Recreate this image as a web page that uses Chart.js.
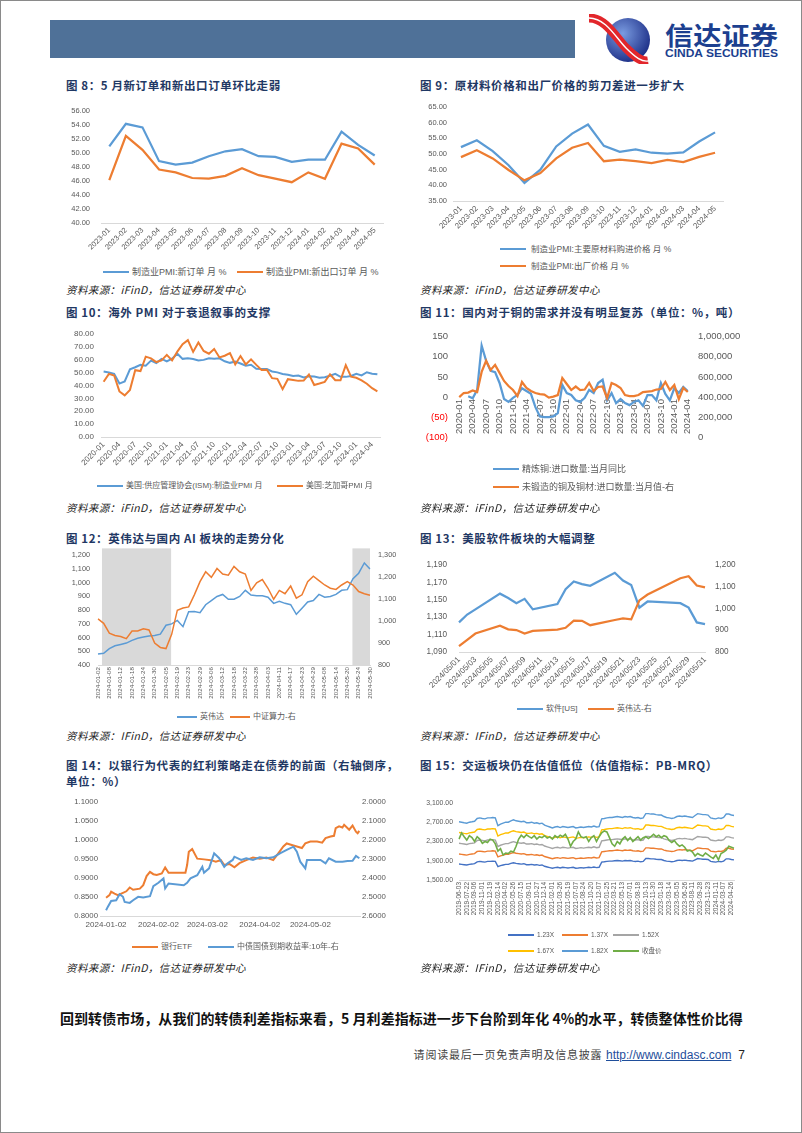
<!DOCTYPE html>
<html>
<head>
<meta charset="utf-8">
<script src="https://cdn.jsdelivr.net/npm/chart.js@4.4.1/dist/chart.umd.min.js"></script>
<style>
  html, body { margin: 0; padding: 0; background: #fff; }
  #page { position: relative; width: 802px; height: 1133px; overflow: hidden; font-family: "Noto Sans CJK SC", sans-serif; }
  .abs { position: absolute; }
  canvas { position: absolute; }
  .ttl { position: absolute; font-weight: 700; font-size: 11.5px; color: #1F3864; letter-spacing: 0.6px; white-space: nowrap; line-height: 16px; }
  .src { position: absolute; font-style: italic; font-size: 10.5px; color: #222; letter-spacing: 0.4px; white-space: nowrap; line-height: 14px; }
  .lg { position: absolute; height: 12px; display: flex; align-items: center; font-size: 8.5px; color: #595959; white-space: nowrap; line-height: 12px; font-family: "Liberation Sans", "Noto Sans CJK SC", sans-serif; }
  .lg i { display: inline-block; width: 26px; height: 2.5px; margin-right: 3px; }
</style>
</head>
<body>
<div id="page">
  <div class="abs" style="left:0;top:0;width:800px;height:1131px;border:1px solid #8a8a8a;"></div>

  <!-- header -->
  <div class="abs" style="left:50px;top:20px;width:525px;height:38px;background:#4F7198;"></div>
  <svg class="abs" style="left:586px;top:14px" width="200" height="50">
    <defs>
      <radialGradient id="lg1" cx="38%" cy="35%" r="70%">
        <stop offset="0" stop-color="#7a9be0"/>
        <stop offset="1" stop-color="#1b2d86"/>
      </radialGradient>
    </defs>
    <circle cx="42" cy="26" r="22" fill="url(#lg1)"/>
    <path d="M3 4 C 20 4, 30 24, 40 34 S 56 48, 62 47" stroke="#E2262B" stroke-width="9" fill="none"/>
    <path d="M3 4 C 20 4, 30 24, 40 34 S 56 48, 62 47" stroke="#ffffff" stroke-width="1.4" fill="none"/>
    <text x="79" y="31" font-family="Noto Sans CJK SC" font-weight="700" font-size="25" fill="#1C3F8F" textLength="113" lengthAdjust="spacingAndGlyphs">信达证券</text>
    <text x="79" y="43" font-family="Liberation Sans" font-weight="700" font-size="10" fill="#1C3F8F" textLength="113" lengthAdjust="spacingAndGlyphs">CINDA SECURITIES</text>
  </svg>

  <!-- titles -->
  <div class="ttl" style="left:66px;top:77px;">图 8：5 月新订单和新出口订单环比走弱</div>
  <div class="ttl" style="left:420px;top:77px;">图 9：原材料价格和出厂价格的剪刀差进一步扩大</div>
  <div class="ttl" style="left:66px;top:304px;">图 10：海外 PMI 对于衰退叙事的支撑</div>
  <div class="ttl" style="left:420px;top:304px;">图 11：国内对于铜的需求并没有明显复苏（单位：%，吨）</div>
  <div class="ttl" style="left:66px;top:530px;">图 12：英伟达与国内 AI 板块的走势分化</div>
  <div class="ttl" style="left:420px;top:530px;">图 13：美股软件板块的大幅调整</div>
  <div class="ttl" style="left:66px;top:757px;">图 14：以银行为代表的红利策略走在债券的前面（右轴倒序，<br>单位：%）</div>
  <div class="ttl" style="left:420px;top:757px;">图 15：交运板块仍在估值低位（估值指标：PB-MRQ）</div>

  <!-- charts -->
  <canvas id="c8" width="335" height="160" style="left:60px;top:95px"></canvas>
  <canvas id="c9" width="325" height="140" style="left:410px;top:95px"></canvas>
  <canvas id="c10" width="330" height="150" style="left:60px;top:322px"></canvas>
  <canvas id="c11" width="355" height="130" style="left:400px;top:322px"></canvas>
  <canvas id="c12" width="350" height="160" style="left:50px;top:543px"></canvas>
  <canvas id="c13" width="355" height="145" style="left:405px;top:548px"></canvas>
  <canvas id="c14" width="345" height="145" style="left:55px;top:790px"></canvas>
  <canvas id="c15" width="340" height="130" style="left:405px;top:791px"></canvas>

  <!-- legends -->
  <div class="lg" style="left:103px;top:266px;font-size:9px"><i style="background:#5B9BD5"></i>制造业PMI:新订单 月 %</div>
  <div class="lg" style="left:237px;top:266px;font-size:9px"><i style="background:#ED7D31"></i>制造业PMI:新出口订单 月 %</div>

  <div class="lg" style="left:500px;top:243px"><i style="background:#5B9BD5;margin-right:5px"></i>制造业PMI:主要原材料购进价格 月 %</div>
  <div class="lg" style="left:500px;top:260px"><i style="background:#ED7D31;margin-right:5px"></i>制造业PMI:出厂价格 月 %</div>

  <div class="lg" style="left:97px;top:480px;font-size:8px"><i style="background:#5B9BD5"></i>美国:供应管理协会(ISM):制造业PMI 月</div>
  <div class="lg" style="left:277px;top:480px;font-size:8px"><i style="background:#ED7D31"></i>美国:芝加哥PMI 月</div>

  <div class="lg" style="left:493px;top:463px;font-size:9px"><i style="background:#5B9BD5"></i>精炼铜:进口数量:当月同比</div>
  <div class="lg" style="left:493px;top:481px;font-size:9px"><i style="background:#ED7D31"></i>未锻造的铜及铜材:进口数量:当月值-右</div>

  <div class="lg" style="left:177px;top:711px;font-size:8px"><i style="background:#5B9BD5;width:20px;height:2px"></i>英伟达</div>
  <div class="lg" style="left:230px;top:711px;font-size:8px"><i style="background:#ED7D31;width:20px;height:2px"></i>中证算力-右</div>

  <div class="lg" style="left:517px;top:703px;font-size:8px"><i style="background:#5B9BD5"></i>软件[US]</div>
  <div class="lg" style="left:588px;top:703px;font-size:8px"><i style="background:#ED7D31"></i>英伟达-右</div>

  <div class="lg" style="left:132px;top:941px;font-size:8px"><i style="background:#ED7D31"></i>银行ETF</div>
  <div class="lg" style="left:208px;top:941px;font-size:8px"><i style="background:#5B9BD5"></i>中债国债到期收益率:10年-右</div>

  <div class="lg" style="left:508px;top:929px;font-size:6.5px"><i style="background:#4472C4;height:2px"></i>1.23X</div>
  <div class="lg" style="left:562px;top:929px;font-size:6.5px"><i style="background:#ED7D31;height:2px"></i>1.37X</div>
  <div class="lg" style="left:613px;top:929px;font-size:6.5px"><i style="background:#A5A5A5;height:2px"></i>1.52X</div>
  <div class="lg" style="left:508px;top:945px;font-size:6.5px"><i style="background:#FFC000;height:2px"></i>1.67X</div>
  <div class="lg" style="left:562px;top:945px;font-size:6.5px"><i style="background:#5B9BD5;height:2px"></i>1.82X</div>
  <div class="lg" style="left:613px;top:945px;font-size:6.5px"><i style="background:#70AD47;height:2px"></i>收盘价</div>

  <!-- sources -->
  <div class="src" style="left:66px;top:283px;">资料来源：iFinD，信达证券研发中心</div>
  <div class="src" style="left:420px;top:283px;">资料来源：iFinD，信达证券研发中心</div>
  <div class="src" style="left:66px;top:501px;">资料来源：iFinD，信达证券研发中心</div>
  <div class="src" style="left:420px;top:501px;">资料来源：iFinD，信达证券研发中心</div>
  <div class="src" style="left:66px;top:729px;">资料来源：IFinD，信达证券研发中心</div>
  <div class="src" style="left:420px;top:729px;">资料来源：IFinD，信达证券研发中心</div>
  <div class="src" style="left:66px;top:961px;">资料来源：IFinD，信达证券研发中心</div>
  <div class="src" style="left:420px;top:961px;">资料来源：IFinD，信达证券研发中心</div>

  <!-- body text and footer -->
  <div class="abs" style="left:60px;top:1008px;font-size:14px;font-weight:700;letter-spacing:0.05px;color:#111;white-space:nowrap;line-height:20px;">回到转债市场，从我们的转债利差指标来看，5 月利差指标进一步下台阶到年化 4%的水平，转债整体性价比得</div>
  <div class="abs" style="right:57px;top:1044px;white-space:nowrap;line-height:16px;">
    <span style="font-size:11px;color:#444;letter-spacing:0.8px;">请阅读最后一页免责声明及信息披露</span>
    <span style="font-family:'Liberation Sans',Arial,sans-serif;font-size:12px;color:#1F4E9B;text-decoration:underline;">http://www.cindasc.com</span>
    <span style="font-family:'Liberation Sans',Arial,sans-serif;font-size:12px;color:#222;">&nbsp;7</span>
  </div>
</div>

<script>
// ---------- data ----------
// 图8
const months8 = ['2023-01','2023-02','2023-03','2023-04','2023-05','2023-06','2023-07','2023-08','2023-09','2023-10','2023-11','2023-12','2024-01','2024-02','2024-03','2024-04','2024-05'];
const newOrders8 = [50.9, 54.1, 53.6, 48.8, 48.3, 48.6, 49.5, 50.2, 50.5, 49.5, 49.4, 48.7, 49.0, 49.0, 53.0, 51.1, 49.6];
const exportOrders8 = [46.1, 52.4, 50.4, 47.6, 47.2, 46.4, 46.3, 46.7, 47.8, 46.8, 46.3, 45.8, 47.2, 46.3, 51.3, 50.6, 48.3];

// 图9
const months9 = months8;
const rawPrice9 = [52.2, 54.4, 50.9, 46.4, 40.8, 45.0, 52.4, 56.5, 59.4, 52.6, 50.7, 51.5, 50.4, 50.1, 50.5, 54.0, 56.9];
const outPrice9 = [49.0, 51.2, 48.6, 44.9, 41.6, 43.9, 48.6, 52.0, 53.5, 47.7, 48.2, 47.7, 47.1, 48.1, 47.4, 49.1, 50.4];

// 图10 (2020-01 ~ 2024-05)
const ism10 = [50.9, 50.1, 49.1, 41.5, 43.1, 52.6, 54.2, 56.0, 55.4, 59.3, 57.5, 60.7,
  58.7, 60.8, 64.7, 60.7, 61.2, 60.6, 59.5, 59.9, 61.1, 60.8, 61.1, 58.8,
  57.6, 58.6, 57.1, 55.4, 56.1, 53.0, 52.8, 52.8, 50.9, 50.2, 49.0, 48.4,
  47.4, 47.7, 46.3, 47.1, 46.9, 46.0, 46.4, 47.6, 49.0, 46.7, 46.7, 47.4,
  49.1, 47.8, 50.3, 49.2, 48.7];
const chicago10 = [42.9, 49.0, 47.8, 35.4, 32.3, 36.6, 51.9, 51.2, 62.4, 61.1, 58.2, 59.5,
  63.8, 59.5, 66.3, 72.1, 75.2, 66.1, 73.4, 66.8, 64.7, 68.4, 61.8, 63.1,
  65.2, 56.3, 62.9, 56.4, 60.3, 56.0, 52.1, 52.2, 45.7, 45.2, 37.2, 44.9,
  44.3, 43.6, 43.8, 48.6, 40.4, 41.5, 42.8, 48.7, 44.1, 44.0, 55.8, 46.9,
  46.0, 44.0, 41.4, 37.9, 35.4];

// 图11 (2020-01 ~ 2024-04)
const copperYoy11 = [null, null, 2, -3, 18, 128, 90, 65, 62, 35,
  -5, -12, -2, 5, 22, 15, 8, -25, -48, -50,
  -50, -48, -40, 30, 10, 5, -8, -12, -2, 18,
  10, 35, 43, -8, 10, -15, -5, -15, -20, -12,
  -8, -22, 5, 5, -8, 35, 8, -8, 22, 10,
  25, 15];
const copperVol11 = [400000, 440000, 445000, 465000, 450000, 650000, 760000, 670000, 720000, 640000,
  560000, 510000, 470000, 410000, 550000, 490000, 460000, 440000, 430000, 425000,
  395000, 405000, 420000, 590000, 530000, 470000, 505000, 470000, 475000, 540000,
  460000, 500000, 505000, 390000, 540000, 520000, 490000, 420000, 410000, 410000,
  420000, 450000, 455000, 460000, 475000, 480000, 550000, 470000, 520000, 380000,
  490000, 450000];

// 图12 (every other trading day, 2024-01-02 ~ 2024-05-30)
const ticks12 = ['2024-01-02','2024-01-08','2024-01-12','2024-01-18','2024-01-24','2024-01-30','2024-02-05','2024-02-19','2024-02-23','2024-02-29','2024-03-06','2024-03-12','2024-03-18','2024-03-22','2024-03-28','2024-04-03','2024-04-11','2024-04-17','2024-04-23','2024-04-29','2024-05-08','2024-05-14','2024-05-20','2024-05-24','2024-05-30'];
const nvda12 = [480, 485, 520, 540, 550, 560, 580, 595, 605, 612,
  615, 625, 690, 700, 725, 680, 788, 790, 782, 840,
  870, 900, 915, 880, 880, 900, 945, 910, 905, 905,
  895, 850, 865, 850, 840, 770, 815, 860, 870, 915,
  895, 900, 915, 945, 950, 1030, 1070, 1145, 1100];
const csi12 = [1010, 990, 945, 935, 930, 920, 955, 955, 965, 960,
  900, 880, 875, 940, 1050, 1060, 1065, 1120, 1180, 1225,
  1200, 1240, 1215, 1210, 1250, 1225, 1215, 1140, 1175, 1190,
  1150, 1100, 1140, 1125, 1160, 1105, 1120, 1180, 1205, 1185,
  1165, 1150, 1145, 1165, 1180, 1165, 1135, 1125, 1118];
const shade12 = [[0.7, 12.9], [44.9, 49]];

// 图13 (calendar days of 2024-05, null = no trading)
const dates13 = Array.from({ length: 31 }, (_, i) => '2024/05/' + String(i + 1).padStart(2, '0'));
const software13 = [1124, 1133, 1139, null, null, 1157, 1152, 1146, 1151, 1139, null, null, 1145, 1162, 1171, 1168, 1166, null, null, 1181, 1172, 1167, 1141, 1148, null, null, null, 1146, 1141, 1124, 1122];
const nvda13 = [827, 856, 885, null, null, 921, 904, 901, 885, 897, null, null, 903, 911, 944, 943, 923, null, null, 947, 954, 950, 1037, 1064, null, null, null, 1139, 1148, 1105, 1097];

// 图14 (days after 2024-01-02)
const tickDays14 = [0, 31, 60, 91, 121];
const tickLabels14 = ['2024-01-02', '2024-02-02', '2024-03-02', '2024-04-02', '2024-05-02'];
const bankDays14 = [0, 2, 3, 5, 7, 10, 12, 14, 16, 20, 22, 24, 26, 28, 30, 33, 35, 37, 47, 48,
  49, 51, 54, 58, 62, 65, 68, 70, 73, 76, 79, 83, 87, 91, 95, 99, 102, 105, 107, 110,
  113, 116, 118, 121, 125, 128, 130, 133, 135, 136, 138, 140, 141, 144, 146, 148, 149, 150];
const bankEtf14 = [0.848, 0.855, 0.864, 0.859, 0.855, 0.861, 0.865, 0.875, 0.869, 0.872,
  0.881, 0.905, 0.916, 0.910, 0.908, 0.912, 0.928, 0.914, 0.914, 0.934,
  0.969, 0.976, 0.951, 0.949, 0.947, 0.943, 0.947, 0.934, 0.937, 0.928,
  0.939, 0.947, 0.954, 0.951, 0.954, 0.947, 0.965, 0.983, 0.991, 0.987,
  0.983, 0.979, 0.991, 0.996, 0.996, 0.993, 1.005, 1.009, 1.011, 1.031,
  1.036, 1.033, 1.040, 1.027, 1.038, 1.022, 1.018, 1.024];
const yieldDays14 = [0, 1, 3, 6, 8, 10, 11, 14, 16, 19, 22, 26, 28, 31, 34, 35, 37, 46, 48, 50,
  54, 57, 58, 61, 64, 67, 70, 72, 75, 76, 80, 83, 87, 91, 95, 99, 103, 107, 111, 113,
  115, 118, 119, 123, 127, 130, 132, 136, 140, 143, 146, 148, 150];
const yield14 = [2.570, 2.552, 2.521, 2.517, 2.485, 2.499, 2.526, 2.531, 2.517, 2.499,
  2.503, 2.496, 2.443, 2.425, 2.402, 2.455, 2.429, 2.438, 2.425, 2.402,
  2.385, 2.341, 2.372, 2.349, 2.270, 2.296, 2.341, 2.323, 2.305, 2.288,
  2.305, 2.296, 2.305, 2.291, 2.296, 2.291, 2.270, 2.252, 2.235, 2.261,
  2.314, 2.349, 2.305, 2.305, 2.305, 2.323, 2.296, 2.314, 2.314, 2.311,
  2.309, 2.284, 2.296];

// 图15 (three samples per tick interval)
const ticks15 = ['2019-06-03','2019-07-22','2019-09-06','2019-11-01','2019-12-19','2020-02-14','2020-04-02','2020-05-26','2020-07-15','2020-09-01','2020-10-27','2020-12-14',
  '2021-02-01','2021-03-26','2021-05-19','2021-07-07','2021-08-24','2021-10-20','2021-12-07','2022-01-25','2022-03-21','2022-05-13','2022-07-01','2022-08-18',
  '2022-10-13','2022-11-30','2023-01-18','2023-03-14','2023-05-05','2023-06-26','2023-08-11','2023-09-28','2023-11-23','2024-01-11','2024-03-07','2024-04-26'];
const pbMultiples15 = [1.23, 1.37, 1.52, 1.67, 1.82];
const pbNames15 = ['1.23X', '1.37X', '1.52X', '1.67X', '1.82X'];
const bookValue15 = [1489, 1484, 1478, 1473, 1484, 1489, 1495, 1527, 1533, 1527,
  1522, 1533, 1533, 1538, 1533, 1445, 1462, 1473, 1484, 1484,
  1500, 1511, 1500, 1495, 1489, 1495, 1478, 1478, 1484, 1473,
  1478, 1467, 1473, 1451, 1440, 1429, 1418, 1429, 1434, 1423,
  1434, 1429, 1423, 1429, 1434, 1418, 1423, 1429, 1423, 1429,
  1434, 1429, 1440, 1429, 1434, 1522, 1527, 1533, 1538, 1538,
  1544, 1549, 1544, 1538, 1549, 1544, 1549, 1538, 1533, 1538,
  1527, 1533, 1582, 1582, 1577, 1577, 1571, 1566, 1566, 1549,
  1538, 1533, 1527, 1533, 1549, 1555, 1549, 1555, 1549, 1544,
  1538, 1560, 1582, 1577, 1571, 1571, 1566, 1533, 1527, 1522,
  1533, 1527, 1538, 1577, 1577, 1566, 1560];
const close15 = [2350, 2480, 2400, 2330, 2420, 2380, 2300, 2400, 2350, 2260,
  2300, 2280, 2350, 2330, 2250, 2100, 2150, 2020, 2060, 2050,
  2100, 2080, 2200, 2350, 2430, 2380, 2440, 2400, 2370, 2420,
  2350, 2400, 2380, 2420, 2370, 2400, 2350, 2420, 2380, 2430,
  2400, 2450, 2350, 2200, 2300, 2350, 2500, 2400, 2380, 2400,
  2300, 2380, 2420, 2300, 2400, 2480, 2520, 2500, 2380, 2250,
  2200, 2300, 2250, 2350, 2400, 2320, 2380, 2300, 2350, 2400,
  2330, 2380, 2400, 2360, 2400, 2450, 2400, 2430, 2380, 2420,
  2400, 2320, 2280, 2320, 2250, 2200, 2230, 2180, 2100, 2120,
  2080, 2000, 2050, 2020, 2000, 2060, 2020, 1980, 1950, 2020,
  1920, 2050, 2080, 2120, 2200, 2180, 2160];

// ---------- helpers ----------
const GRAY = '#595959';
const AXIS = '#D9D9D9';
const BLUE = '#5B9BD5';
const ORANGE = '#ED7D31';
const PB_COLORS = ['#4472C4', '#ED7D31', '#A5A5A5', '#FFC000', '#5B9BD5'];

Chart.defaults.font.family = '"Liberation Sans", Arial, sans-serif';
Chart.defaults.color = GRAY;
Chart.defaults.animation = false;
Chart.defaults.responsive = false;
Chart.defaults.plugins.legend.display = false;
Chart.defaults.plugins.tooltip.enabled = false;
Chart.defaults.elements.point.radius = 0;
Chart.defaults.elements.line.tension = 0;

function months(y, m, n) {
  const out = [];
  for (let i = 0; i < n; i++) {
    const mm = (m - 1 + i) % 12 + 1;
    const yy = y + Math.floor((m - 1 + i) / 12);
    out.push(yy + '-' + String(mm).padStart(2, '0'));
  }
  return out;
}
const fixW = w => s => { s.width = w; };
const fixH = h => s => { s.height = h; };
const noGrid = { display: false, drawTicks: false };
const comma = v => v.toLocaleString('en-US');

function line(data, color, width, order, extra) {
  return Object.assign({ data, borderColor: color, backgroundColor: color, borderWidth: width, pointRadius: 0, order, spanGaps: true }, extra || {});
}

// ---------- 图8 ----------
new Chart(document.getElementById('c8'), {
  type: 'line',
  data: { labels: months8, datasets: [line(newOrders8, BLUE, 2.25, 2), line(exportOrders8, ORANGE, 2.25, 1)] },
  options: {
    layout: { padding: { top: 12, right: 12 } },
    scales: {
      x: { offset: true, grid: noGrid, border: { color: AXIS }, afterFit: fixH(32),
        ticks: { autoSkip: false, minRotation: 45, maxRotation: 45, padding: 3, font: { size: 7.5 } } },
      y: { min: 40, max: 56, grid: noGrid, border: { display: false }, afterFit: fixW(41),
        ticks: { stepSize: 2, padding: 11, font: { size: 7.5 }, callback: v => v.toFixed(2) } }
    }
  }
});

// ---------- 图9 ----------
new Chart(document.getElementById('c9'), {
  type: 'line',
  data: { labels: months9, datasets: [line(rawPrice9, BLUE, 2.25, 2), line(outPrice9, ORANGE, 2.25, 1)] },
  options: {
    layout: { padding: { top: 12, right: 12 } },
    scales: {
      x: { offset: true, grid: noGrid, border: { color: AXIS }, afterFit: fixH(34),
        ticks: { autoSkip: false, minRotation: 45, maxRotation: 45, padding: 3, font: { size: 7.8 } } },
      y: { min: 35, max: 65, grid: noGrid, border: { display: false }, afterFit: fixW(43),
        ticks: { stepSize: 5, padding: 6, font: { size: 7.5 }, callback: v => v.toFixed(2) } }
    }
  }
});

// ---------- 图10 ----------
const months10 = months(2020, 1, ism10.length);
new Chart(document.getElementById('c10'), {
  type: 'line',
  data: { labels: months10, datasets: [line(ism10, BLUE, 2, 2), line(chicago10, ORANGE, 2, 1)] },
  options: {
    layout: { padding: { top: 12, right: 10 } },
    scales: {
      x: { offset: true, grid: noGrid, border: { color: AXIS }, afterFit: fixH(35),
        ticks: { autoSkip: false, minRotation: 45, maxRotation: 45, padding: 3, font: { size: 8 },
          callback: (v, i) => (i % 3 === 0 ? months10[i] : '') } },
      y: { min: 0, max: 80, grid: noGrid, border: { display: false }, afterFit: fixW(41),
        ticks: { stepSize: 10, padding: 7, font: { size: 8 }, callback: v => v.toFixed(2) } }
    }
  }
});

// ---------- 图11 ----------
const months11 = months(2020, 1, copperYoy11.length);
new Chart(document.getElementById('c11'), {
  type: 'line',
  data: { labels: months11, datasets: [
    line(copperYoy11, BLUE, 2.25, 2, { yAxisID: 'y' }),
    line(copperVol11, ORANGE, 2.25, 1, { yAxisID: 'y1' })
  ] },
  options: {
    layout: { padding: { top: 12 } },
    scales: {
      x: { offset: true, position: { y: 0 }, grid: noGrid, border: { display: false }, afterFit: fixH(6),
        ticks: { autoSkip: false, minRotation: 90, maxRotation: 90, padding: 2, font: { size: 9.5 },
          callback: (v, i) => (i % 3 === 0 ? months11[i] : '') } },
      y: { position: 'left', min: -100, max: 150, grid: noGrid, border: { display: false }, afterFit: fixW(57),
        ticks: { stepSize: 50, padding: 9, font: { size: 9.5 },
          color: c => (c.tick.value < 0 ? '#FF0000' : GRAY),
          callback: v => (v < 0 ? '(' + (-v) + ')' : v) } },
      y1: { position: 'right', min: 0, max: 1000000, grid: noGrid, border: { display: false }, afterFit: fixW(65),
        ticks: { stepSize: 200000, padding: 8, font: { size: 9.5 }, callback: comma } }
    }
  }
});

// ---------- 图12 ----------
const labels12 = csi12.map((_, i) => (i % 2 === 0 ? ticks12[i / 2] : ''));
const shadePlugin = {
  id: 'shade12',
  beforeDatasetsDraw(chart) {
    const { ctx, chartArea, scales } = chart;
    ctx.save();
    ctx.fillStyle = '#D9D9D9';
    for (const [a, b] of shade12) {
      const x1 = scales.x.getPixelForValue(a);
      const x2 = Math.min(scales.x.getPixelForValue(b), chartArea.right);
      ctx.fillRect(x1, chartArea.top - 7, x2 - x1, chartArea.bottom - chartArea.top + 7);
    }
    ctx.restore();
  }
};
new Chart(document.getElementById('c12'), {
  type: 'line',
  data: { labels: labels12, datasets: [
    line(nvda12, BLUE, 1.5, 2, { yAxisID: 'y' }),
    line(csi12, ORANGE, 1.5, 1, { yAxisID: 'y1' })
  ] },
  options: {
    layout: { padding: { top: 12 } },
    scales: {
      x: { offset: false, grid: noGrid, border: { color: AXIS }, afterFit: fixH(38),
        ticks: { autoSkip: false, minRotation: 90, maxRotation: 90, padding: 2, font: { size: 6.2 } } },
      y: { position: 'left', min: 400, max: 1200, grid: noGrid, border: { display: false }, afterFit: fixW(48),
        ticks: { stepSize: 100, padding: 8, font: { size: 7.3 }, callback: comma } },
      y1: { position: 'right', min: 800, max: 1300, grid: noGrid, border: { display: false }, afterFit: fixW(30),
        ticks: { stepSize: 100, padding: 8, font: { size: 7.3 }, callback: comma } }
    }
  },
  plugins: [shadePlugin]
});

// ---------- 图13 ----------
new Chart(document.getElementById('c13'), {
  type: 'line',
  data: { labels: dates13, datasets: [
    line(software13, BLUE, 2.25, 2, { yAxisID: 'y' }),
    line(nvda13, ORANGE, 2.25, 1, { yAxisID: 'y1' })
  ] },
  options: {
    layout: { padding: { top: 12 } },
    scales: {
      x: { offset: false, grid: noGrid, border: { color: AXIS }, afterFit: fixH(41),
        ticks: { autoSkip: false, minRotation: 45, maxRotation: 45, padding: 3, font: { size: 8 },
          callback: (v, i) => (i % 2 === 0 ? dates13[i] : '') } },
      y: { position: 'left', min: 1090, max: 1190, grid: noGrid, border: { display: false }, afterFit: fixW(54),
        ticks: { stepSize: 10, padding: 12, font: { size: 8.2 }, callback: comma } },
      y1: { position: 'right', min: 800, max: 1200, grid: noGrid, border: { display: false }, afterFit: fixW(55),
        ticks: { stepSize: 50, padding: 10, font: { size: 8.2 }, callback: comma } }
    }
  }
});

// ---------- 图14 ----------
new Chart(document.getElementById('c14'), {
  type: 'line',
  data: { datasets: [
    line(bankDays14.map((d, i) => ({ x: d, y: bankEtf14[i] })), ORANGE, 2, 2, { yAxisID: 'y' }),
    line(yieldDays14.map((d, i) => ({ x: d, y: yield14[i] })), BLUE, 2, 1, { yAxisID: 'y1' })
  ] },
  options: {
    layout: { padding: { top: 12 } },
    scales: {
      x: { type: 'linear', min: -3.6, max: 150.4, grid: noGrid, border: { color: AXIS }, afterFit: fixH(19),
        afterBuildTicks: s => { s.ticks = tickDays14.map(v => ({ value: v })); },
        ticks: { autoSkip: false, maxRotation: 0, minRotation: 0, padding: 4, font: { size: 8 },
          callback: v => tickLabels14[tickDays14.indexOf(v)] } },
      y: { position: 'left', min: 0.8, max: 1.1, grid: noGrid, border: { display: false }, afterFit: fixW(45),
        ticks: { stepSize: 0.05, padding: 2, font: { size: 7.8 }, callback: v => v.toFixed(4) } },
      y1: { position: 'right', min: 2.0, max: 2.6, reverse: true, grid: noGrid, border: { display: false }, afterFit: fixW(40),
        ticks: { stepSize: 0.1, padding: 2, font: { size: 7.8 }, callback: v => v.toFixed(4) } }
    }
  }
});

// ---------- 图15 ----------
const labels15 = close15.map((_, i) => (i % 3 === 0 && ticks15[i / 3] ? ticks15[i / 3] : ''));
const bands15 = pbMultiples15.map((m, k) =>
  line(bookValue15.map(b => Math.round(b * m)), PB_COLORS[k], 1.4, k + 1, { label: pbNames15[k] }));
new Chart(document.getElementById('c15'), {
  type: 'line',
  data: { labels: labels15, datasets: bands15.concat([line(close15, '#70AD47', 1.6, 0, { label: '收盘价' })]) },
  options: {
    layout: { padding: { top: 12, right: 11 } },
    scales: {
      x: { offset: false, grid: noGrid, border: { color: AXIS }, afterFit: fixH(41),
        ticks: { autoSkip: false, minRotation: 90, maxRotation: 90, padding: 2, font: { size: 6.5 } } },
      y: { min: 1500, max: 3100, grid: noGrid, border: { display: false }, afterFit: fixW(54),
        ticks: { stepSize: 200, padding: 6, font: { size: 6.9 },
          callback: v => v.toLocaleString('en-US', { minimumFractionDigits: 2, maximumFractionDigits: 2 }) } }
    }
  }
});
</script>
</body>
</html>
